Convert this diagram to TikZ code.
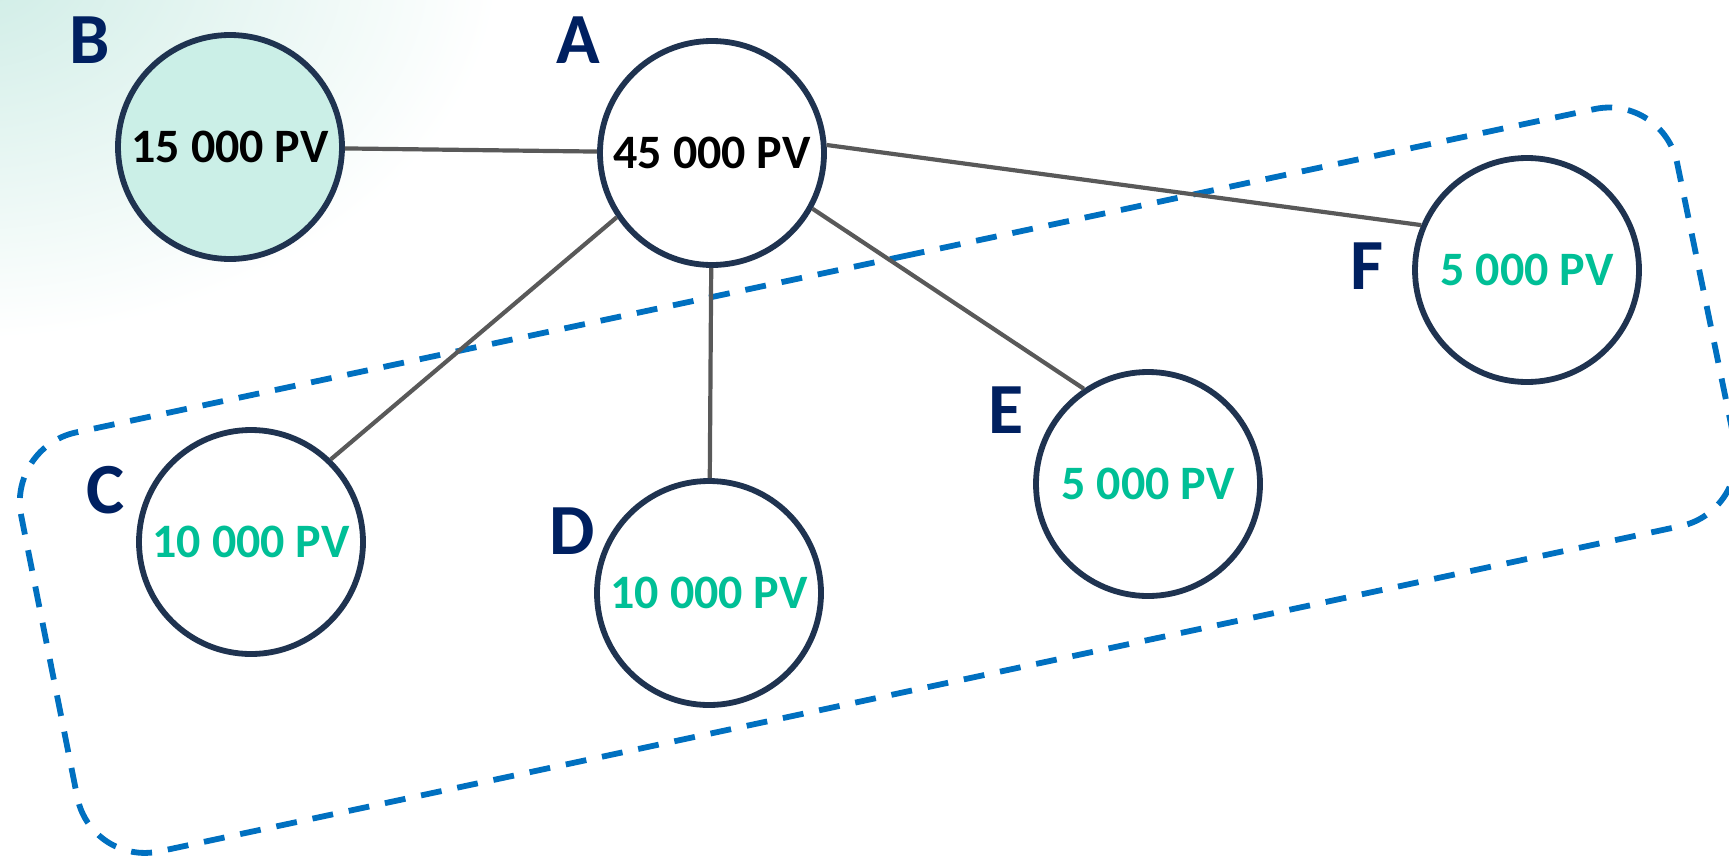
\documentclass[tikz,border=0pt]{standalone}
\usepackage{fontspec}
\setmainfont{Carlito}
\definecolor{navy}{HTML}{002060}
\definecolor{ringcol}{RGB}{31,51,80}
\definecolor{pvgreen}{RGB}{0,191,150}
\definecolor{bfill}{RGB}{203,239,231}
\definecolor{edgegray}{HTML}{595959}
\definecolor{dashblue}{HTML}{0070C0}
\definecolor{bgmint}{RGB}{205,236,229}
\begin{document}
\begin{tikzpicture}[x=0.5pt,y=-0.5pt,
  pv/.style={circle, draw=ringcol, line width=2.9pt, fill=white, minimum size=112pt,
             inner sep=0pt, font=\fontsize{24}{28}\selectfont\bfseries},
  greentext/.style={text=pvgreen},
  letter/.style={inner sep=0pt, text=navy, font=\fontsize{36}{40}\selectfont\bfseries},
  edgeline/.style={draw=edgegray, line width=2.1pt},
  groupbox/.style={draw=dashblue, line width=2.9pt, dash pattern=on 10.5pt off 8pt,
                   rounded corners=35pt}]
\useasboundingbox (0,0) rectangle (1729,857);
\clip (0,0) rectangle (1729,857);
% background tint
\shade[inner color=bgmint, outer color=white] (-40,-40) ellipse (270pt and 190pt);
% nodes
\node[pv, fill=bfill] (B) at (230,147) {15 000 PV};
\node[pv] (A) at (712,153) {45 000 PV};
\node[pv, greentext] (C) at (251,542) {10 000 PV};
\node[pv, greentext] (D) at (709,593) {10 000 PV};
\node[pv, greentext] (E) at (1148,484) {5 000 PV};
\node[pv, greentext] (F) at (1527,270) {5 000 PV};
% letters
\node[letter] (lB) at (90,40) {B};
\node[letter] (lA) at (578,40) {A};
\node[letter] (lC) at (106,490) {C};
\node[letter] (lD) at (572,531) {D};
\node[letter] (lE) at (1006,410) {E};
\node[letter] (lF) at (1367,266) {F};
% group
\coordinate (g0) at (835.25,270.75);
\coordinate (gTR) at (1663,94.5);
\coordinate (gBR) at (1749,511.5);
\coordinate (gBL) at (91,866);
\coordinate (gTL) at (7.5,447);
\draw[groupbox] (g0) -- (gTR) -- (gBR) -- (gBL) -- (gTL) -- cycle;
% edges
\draw[edgeline] (B) -- (A);
\draw[edgeline] (A.214) -- (C.46);
\draw[edgeline] (A) -- (D);
\draw[edgeline] (A.-29) -- (E.124);
\draw[edgeline] (A.4) -- (F.157);
\end{tikzpicture}
\end{document}
